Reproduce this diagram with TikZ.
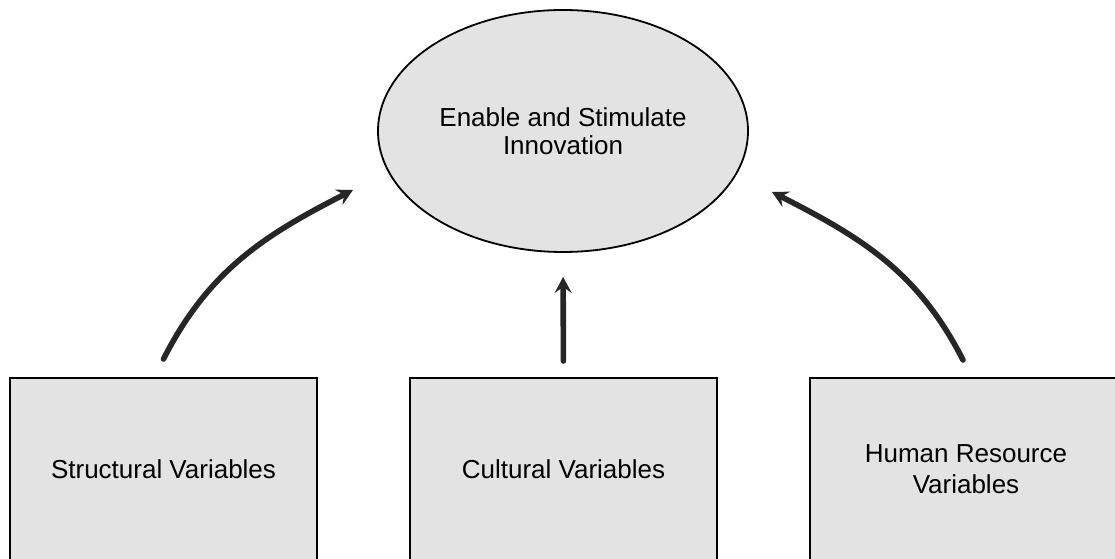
\documentclass[tikz,border=0pt]{standalone}
\usepackage{fontspec}
\setmainfont{Liberation Sans}
\usetikzlibrary{shapes.geometric,arrows.meta}
\begin{document}
\begin{tikzpicture}[x=0.5pt,y=0.5pt,
  shade/.style={fill=black!11},
  varbox/.style={shade,draw=black,line width=1pt,rectangle,minimum width=153.5pt,minimum height=91pt,inner sep=0pt,align=center,font=\fontsize{13}{15.5}\selectfont},
  widebox/.style={varbox,minimum width=156pt},
  goal/.style={shade,draw=black,line width=0.9pt,ellipse,minimum width=185pt,minimum height=121pt,inner sep=0pt,align=center,font=\fontsize{13}{14.5}\selectfont},
  link/.style={draw=black!85,line width=2.8pt,line cap=round,-{Stealth[length=8pt,width=8.5pt,inset=3pt]}}]
\clip (0,0) rectangle (1115,558);
\fill[white] (0,0) rectangle (1115,558);
\node[goal] (ell) at (563,427) {Enable and Stimulate\\[-0.5pt]Innovation};
\node[varbox] (sbox) at (163.5,89) {Structural Variables};
\node[varbox] (cbox) at (563.5,89) {Cultural Variables};
\node[widebox] (hbox) at (966,89) {Human Resource\\Variables};
\coordinate (ltip) at (353,368);
\coordinate (rtip) at (772,366);
\draw[link] ([yshift=9pt]sbox.north) to[out=63,in=207] (ltip);
\draw[link,shorten <=8pt,shorten >=12pt] (cbox.north) -- (ell.south);
\draw[link] ([xshift=-1.5pt,yshift=8.5pt]hbox.north) to[out=117,in=-27] (rtip);
\end{tikzpicture}
\end{document}
